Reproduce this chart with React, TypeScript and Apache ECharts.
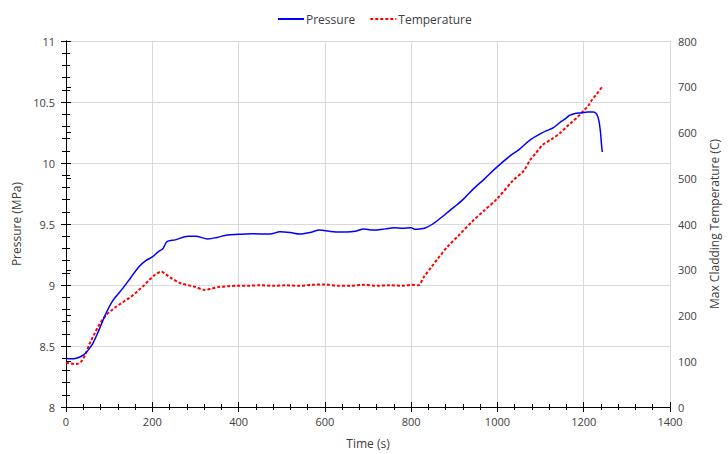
import React, { useEffect, useRef } from "react";
import * as echarts from "echarts";

const pressureTime = [0, 10, 24, 40, 50, 62, 75, 93, 110, 131, 150, 169, 185, 200, 213, 225, 234, 253, 283, 300, 329, 350, 374, 400, 430, 473, 496, 520, 542, 565, 588, 610, 626, 650, 670, 690, 710, 720, 740, 760, 780, 800, 808, 820, 831, 850, 877, 900, 920, 945, 970, 1000, 1030, 1050, 1076, 1100, 1114, 1130, 1144, 1160, 1167, 1180, 1190, 1210, 1223, 1230, 1235, 1239, 1241, 1243];
const pressureValues = [8.4, 8.395, 8.4, 8.426, 8.46, 8.52, 8.62, 8.77, 8.88, 8.97, 9.06, 9.15, 9.2, 9.23, 9.27, 9.3, 9.355, 9.37, 9.4, 9.4, 9.377, 9.39, 9.41, 9.415, 9.42, 9.418, 9.437, 9.43, 9.418, 9.43, 9.45, 9.44, 9.435, 9.435, 9.44, 9.46, 9.45, 9.45, 9.46, 9.47, 9.465, 9.47, 9.457, 9.46, 9.465, 9.5, 9.574, 9.64, 9.7, 9.79, 9.87, 9.97, 10.06, 10.11, 10.19, 10.24, 10.265, 10.29, 10.33, 10.37, 10.39, 10.405, 10.41, 10.418, 10.418, 10.4, 10.35, 10.25, 10.16, 10.09];

const tempTime = [0, 10, 24, 35, 45, 55, 65, 74, 84, 93, 105, 116, 130, 146, 160, 169, 180, 192, 205, 215, 221, 230, 245, 267, 298, 321, 335, 352, 375, 397, 420, 450, 480, 510, 540, 570, 600, 630, 660, 690, 720, 750, 780, 800, 816, 830, 847, 865, 884, 910, 941, 970, 1000, 1037, 1060, 1076, 1090, 1105, 1125, 1144, 1160, 1174, 1186, 1197, 1210, 1219, 1230, 1242];
const tempValues = [97, 95, 94, 99, 115, 139, 158, 175, 190, 201, 211, 219, 228, 238, 248, 256, 265, 277, 288, 294, 296, 291, 281, 270, 263, 256, 258, 262, 264, 265, 265, 266, 265, 266, 265, 267, 268, 265, 265, 267, 265, 266, 265, 267, 266, 285, 306, 328, 350, 375, 405, 430, 456, 496, 515, 540, 556, 573, 585, 598, 612, 624, 634, 645, 658, 671, 684, 699];

const FONT = "Open Sans";
const TEXT = "#404040";

export default function App() {
  const ref = useRef<HTMLDivElement>(null);
  useEffect(() => {
    if (!ref.current) return;
    const chart = echarts.init(ref.current, undefined, { renderer: "svg" });
    const black = { color: "#000", width: 1 };
    const plain = (v: number) => String(v);
    chart.setOption({
      animation: false,
      backgroundColor: "#fff",
      textStyle: { fontFamily: FONT },
      legend: {
        left: 272,
        top: 8,
        itemWidth: 26,
        itemHeight: 10,
        itemGap: 14,
        itemStyle: { opacity: 0 },
        textStyle: { fontFamily: FONT, fontSize: 12, color: TEXT, padding: [0, 0, 0, -3] },
        data: ["Pressure", "Temperature"],
      },
      grid: { left: 66, right: 49, top: 41, bottom: 47, containLabel: false },
      xAxis: [
        {
          type: "value",
          min: 0,
          max: 1400,
          interval: 200,
          name: "Time (s)",
          nameLocation: "middle",
          nameGap: 30,
          nameTextStyle: { fontFamily: FONT, fontSize: 12, color: TEXT },
          axisLine: { show: true, lineStyle: black },
          axisTick: { show: true, length: 5, lineStyle: black },
          minorTick: { show: true, splitNumber: 5, length: 3, lineStyle: black },
          axisLabel: { fontFamily: FONT, fontSize: 11, color: TEXT, margin: 9, formatter: plain },
          splitLine: { show: true, lineStyle: { color: "#d9d9d9", width: 1 } },
        },
        {
          type: "value",
          min: 0,
          max: 1400,
          interval: 200,
          position: "bottom",
          axisLine: { show: false },
          axisTick: { show: true, inside: true, length: 5, lineStyle: black },
          minorTick: { show: true, splitNumber: 5, length: 3, lineStyle: black },
          axisLabel: { show: false },
          splitLine: { show: false },
        },
      ],
      yAxis: [
        {
          type: "value",
          min: 8,
          max: 11,
          interval: 0.5,
          position: "left",
          name: "Pressure (MPa)",
          nameLocation: "middle",
          nameRotate: 90,
          nameGap: 44,
          nameTextStyle: { fontFamily: FONT, fontSize: 12, color: TEXT },
          axisLine: { show: true, lineStyle: black },
          axisTick: { show: true, length: 5, lineStyle: black },
          minorTick: { show: true, splitNumber: 5, length: 4, lineStyle: black },
          axisLabel: { fontFamily: FONT, fontSize: 11, color: TEXT, margin: 11 },
          splitLine: { show: true, lineStyle: { color: "#d9d9d9", width: 1 } },
        },
        {
          type: "value",
          min: 0,
          max: 800,
          interval: 100,
          position: "right",
          name: "Max Cladding Temperature (C)",
          nameLocation: "middle",
          nameRotate: 90,
          nameGap: 38,
          nameTextStyle: { fontFamily: FONT, fontSize: 12, color: TEXT },
          axisLine: { show: true, lineStyle: black },
          axisTick: { show: true, length: 5, lineStyle: black },
          axisLabel: { fontFamily: FONT, fontSize: 11, color: TEXT, margin: 8, formatter: plain },
          splitLine: { show: false },
        },
        {
          type: "value",
          min: 8,
          max: 11,
          interval: 0.5,
          position: "left",
          axisLine: { show: false },
          axisTick: { show: true, inside: true, length: 5, lineStyle: black },
          minorTick: { show: true, splitNumber: 5, length: 4, lineStyle: black },
          axisLabel: { show: false },
          splitLine: { show: false },
        },
      ],
      series: [
        {
          name: "Pressure",
          type: "line",
          xAxisIndex: 0,
          yAxisIndex: 0,
          symbol: "none",
          smooth: 0.3,
          lineStyle: { color: "#0000ff", width: 1.5 },
          itemStyle: { color: "#0000ff" },
          data: pressureTime.map((t, i) => [t, pressureValues[i]]),
          z: 3,
        },
        {
          name: "Temperature",
          type: "line",
          xAxisIndex: 0,
          yAxisIndex: 1,
          symbol: "none",
          smooth: 0.3,
          lineStyle: { color: "#ff0000", width: 2, type: [3, 2] },
          itemStyle: { color: "#ff0000" },
          data: tempTime.map((t, i) => [t, tempValues[i]]),
          z: 2,
        },
      ],
    });
    return () => chart.dispose();
  }, []);
  return (
    <div
      ref={ref}
      style={{ position: "fixed", left: 0, top: 0, width: 728, height: 454, background: "#fff" }}
    />
  );
}
